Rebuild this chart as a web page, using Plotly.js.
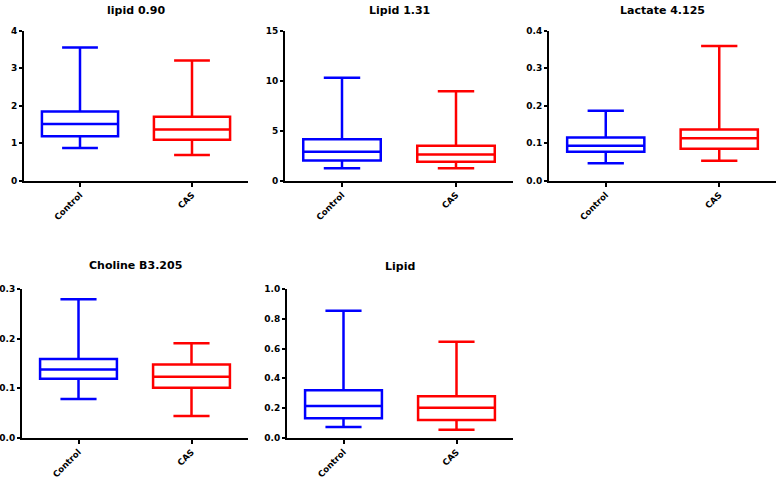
<!DOCTYPE html>
<html>
<head>
<meta charset="utf-8">
<script src="https://cdn.plot.ly/plotly-3.0.1.min.js"></script>
<style>html,body{margin:0;padding:0;background:#fff;}#chart{width:778px;height:478px;}</style>
</head>
<body>
<div id="chart"></div>
<script>
// Categories and panel titles
const categories = ['Control', 'CAS'];
const panelTitles = ['lipid 0.90', 'Lipid 1.31', 'Lactate 4.125', 'Choline B3.205', 'Lipid'];

// Each array: [lower whisker, Q1, median, Q3, upper whisker]
const lipid090Control = [0.87, 1.18, 1.51, 1.84, 3.55];
const lipid090CAS     = [0.68, 1.09, 1.36, 1.70, 3.20];
const lipid131Control = [1.23, 2.00, 2.87, 4.13, 10.27];
const lipid131CAS     = [1.23, 1.87, 2.60, 3.47, 8.93];
const lactateControl  = [0.046, 0.077, 0.093, 0.115, 0.186];
const lactateCAS      = [0.053, 0.085, 0.113, 0.136, 0.359];
const cholineControl  = [0.078, 0.119, 0.138, 0.159, 0.280];
const cholineCAS      = [0.044, 0.101, 0.123, 0.148, 0.191];
const lipidControl    = [0.072, 0.131, 0.214, 0.320, 0.856];
const lipidCAS        = [0.054, 0.119, 0.202, 0.279, 0.647];

// Y axis settings per panel
const yMax = [4, 15, 0.4, 0.3, 1.0];
const yStep = [1, 5, 0.1, 0.1, 0.2];
const yFormat = ['d', 'd', '.1f', '.1f', '.1f'];

const panelData = [
  [lipid090Control, lipid090CAS],
  [lipid131Control, lipid131CAS],
  [lactateControl, lactateCAS],
  [cholineControl, cholineCAS],
  [lipidControl, lipidCAS]
];
const colors = ['#0000ff', '#ff0000'];

const W = 778, H = 478;
// plot areas in pixels [x0, x1, y0(top), y1(bottom)]
const areas = [
  [24, 248, 30.5, 180.5],
  [285, 513, 30.5, 180.5],
  [549, 776, 30.5, 180.5],
  [22, 248, 289.3, 437.7],
  [287, 513, 289.3, 437.7]
];
const titleY = [10, 10, 10, 265, 266];

const traces = [];
const layout = {
  width: W, height: H,
  margin: {l: 0, r: 0, t: 0, b: 0},
  paper_bgcolor: '#fff', plot_bgcolor: 'rgba(0,0,0,0)',
  showlegend: false,
  boxmode: 'overlay',
  font: {family: 'DejaVu Sans', color: '#000'},
  annotations: []
};

panelData.forEach((pair, i) => {
  const n = i + 1;
  const xa = 'x' + (i === 0 ? '' : n);
  const ya = 'y' + (i === 0 ? '' : n);
  pair.forEach((v, j) => {
    traces.push({
      type: 'box',
      x: [categories[j]],
      lowerfence: [v[0]], q1: [v[1]], median: [v[2]], q3: [v[3]], upperfence: [v[4]],
      xaxis: xa, yaxis: ya,
      boxpoints: false,
      width: 0.68,
      whiskerwidth: 0.47,
      line: {color: colors[j], width: 2.5},
      fillcolor: 'rgba(0,0,0,0)',
      hoverinfo: 'skip',
      name: categories[j]
    });
  });
  const a = areas[i];
  const axisKeyX = 'xaxis' + (i === 0 ? '' : n);
  const axisKeyY = 'yaxis' + (i === 0 ? '' : n);
  layout[axisKeyX] = {
    domain: [a[0] / W, a[1] / W],
    anchor: ya,
    type: 'category',
    categoryorder: 'array', categoryarray: categories,
    range: [-0.5, 1.5],
    showline: true, linecolor: '#000', linewidth: 2,
    ticks: 'outside', ticklen: 4, tickwidth: 2, tickcolor: '#000',
    tickangle: -45,
    tickfont: {family: 'DejaVu Sans', size: 8.6, weight: 'bold', color: '#000'},
    showgrid: false, zeroline: false, fixedrange: true
  };
  layout[axisKeyY] = {
    domain: [1 - a[3] / H, 1 - a[2] / H],
    anchor: xa,
    range: [0, yMax[i]],
    tickmode: 'linear', tick0: 0, dtick: yStep[i],
    tickformat: yFormat[i],
    showline: true, linecolor: '#000', linewidth: 2,
    ticks: 'outside', ticklen: 3, tickwidth: 2, tickcolor: '#000',
    tickfont: {family: 'DejaVu Sans', size: 9, weight: 'bold', color: '#000'},
    showgrid: false, zeroline: false, fixedrange: true
  };
  layout.annotations.push({
    text: panelTitles[i],
    xref: 'paper', yref: 'paper',
    x: (a[0] + a[1]) / 2 / W, y: 1 - titleY[i] / H,
    xanchor: 'center', yanchor: 'middle',
    showarrow: false,
    font: {family: 'DejaVu Sans', size: 11, weight: 'bold', color: '#000'}
  });
});

Plotly.newPlot('chart', traces, layout, {displayModeBar: false, staticPlot: true});
</script>
</body>
</html>
